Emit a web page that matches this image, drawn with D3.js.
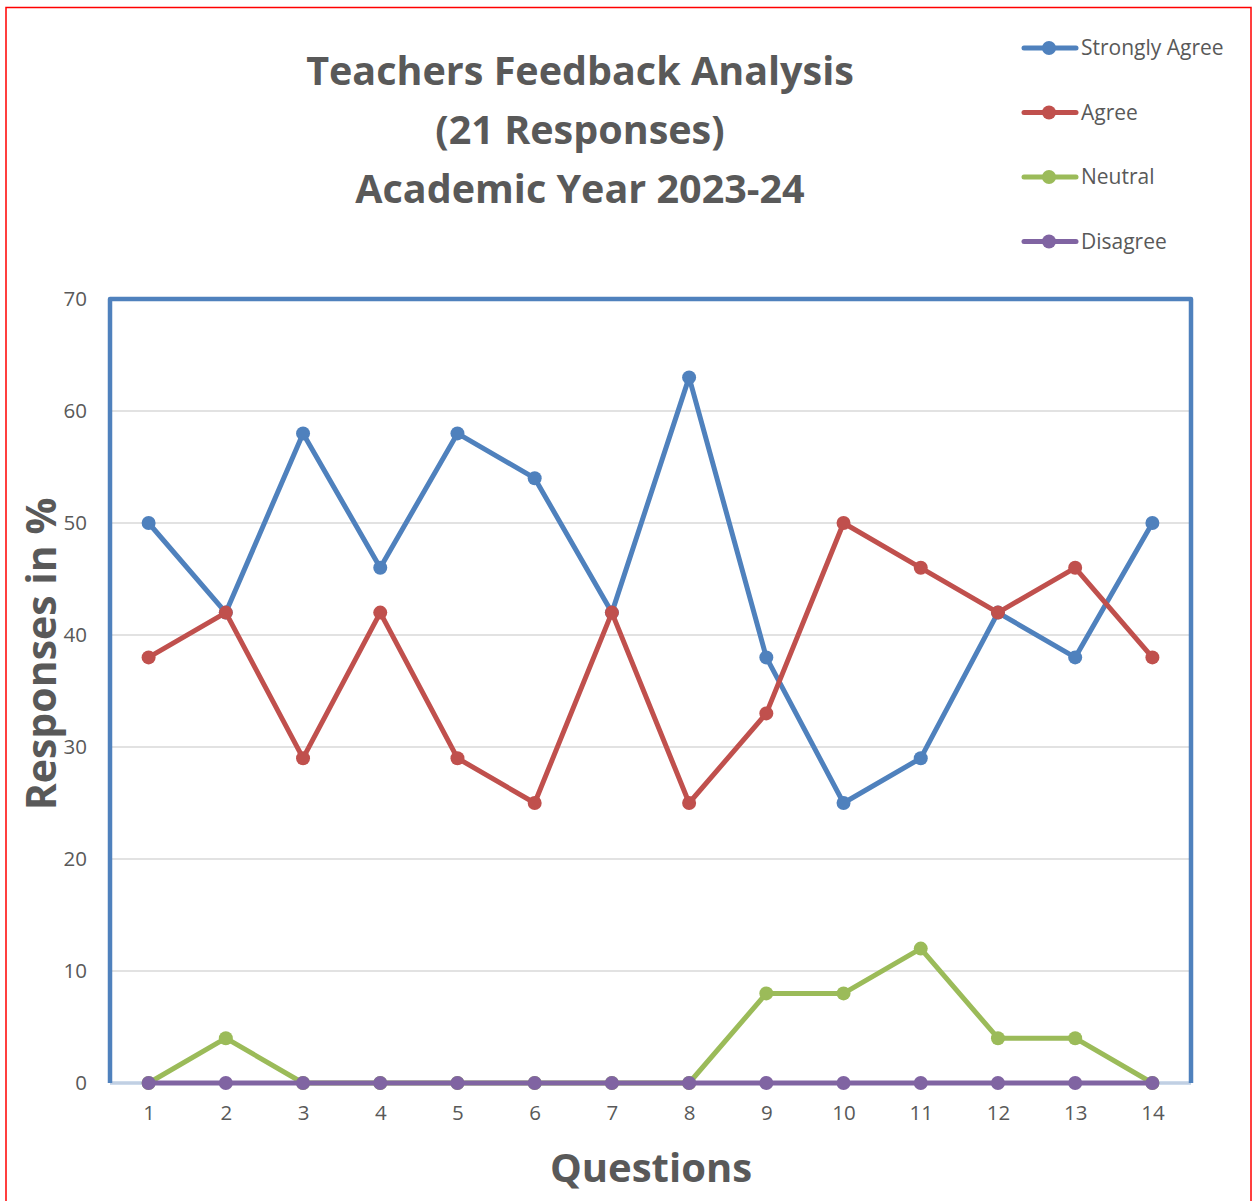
<!DOCTYPE html>
<html><head><meta charset="utf-8">
<script src="https://cdn.jsdelivr.net/npm/d3@7"></script>
<style>body{margin:0;background:#fff;}svg{display:block;}</style>
</head><body>
<script>
const questions = [1,2,3,4,5,6,7,8,9,10,11,12,13,14];
const stronglyAgree = [50,42,58,46,58,54,42,63,38,25,29,42,38,50];
const agree = [38,42,29,42,29,25,42,25,33,50,46,42,46,38];
const neutral = [0,4,0,0,0,0,0,0,8,8,12,4,4,0];
const disagree = [0,0,0,0,0,0,0,0,0,0,0,0,0,0];
const yTicks = [0,10,20,30,40,50,60,70];
const seriesNames = ["Strongly Agree","Agree","Neutral","Disagree"];
const seriesColors = ["#4f81bd","#c0504d","#9bbb59","#8064a2"];
const titleLines = ["Teachers Feedback Analysis","(21 Responses)","Academic Year 2023-24"];

const W = 1253, H = 1201;
const font = "'Open Sans', sans-serif";
const svg = d3.select("body").append("svg").attr("width", W).attr("height", H);
svg.append("rect").attr("width", W).attr("height", H).attr("fill", "#fff");
// outer red frame
svg.append("rect").attr("x", 6).attr("y", 7.5).attr("width", 1245).attr("height", 1200)
  .attr("fill", "none").attr("stroke", "#ff0000").attr("stroke-width", 1.5);

const L = 110, R = 1191, T = 299, B = 1083;
const x = d3.scalePoint().domain(questions).range([L, R]).padding(0.5);
const y = d3.scaleLinear().domain([0, 70]).range([B, T]);

// gridlines
svg.append("g").selectAll("line").data(yTicks.filter(d => d > 0 && d < 70)).join("line")
  .attr("x1", L).attr("x2", R).attr("y1", d => y(d)).attr("y2", d => y(d))
  .attr("stroke", "#d9d9d9").attr("stroke-width", 1.3);

// y axis labels
const yAxis = d3.axisLeft(y).tickValues(yTicks).tickSize(0).tickPadding(23);
const gy = svg.append("g").attr("transform", `translate(${L},0)`).call(yAxis);
gy.select(".domain").remove();
gy.selectAll("text").attr("font-family", font).attr("font-size", 20.5).attr("fill", "#595959");

// x axis labels
const xAxis = d3.axisBottom(x).tickSize(0).tickPadding(22);
const gx = svg.append("g").attr("transform", `translate(0,${B})`).call(xAxis);
gx.select(".domain").remove();
gx.selectAll("text").attr("font-family", font).attr("font-size", 20.5).attr("fill", "#595959");

// bottom axis line
svg.append("line").attr("x1", L).attr("x2", R).attr("y1", B).attr("y2", B)
  .attr("stroke", "#9db7d8").attr("stroke-width", 3);
svg.append("line").attr("x1", L).attr("x2", R).attr("y1", B).attr("y2", B)
  .attr("stroke", "#e4e8ee").attr("stroke-width", 1);
// plot border (top, left, right)
svg.append("path").attr("d", `M${L},${B}V${T}H${R}V${B}`)
  .attr("fill", "none").attr("stroke", "#4f81bd").attr("stroke-width", 4.5).attr("stroke-linejoin", "round");

// series
const allSeries = [stronglyAgree, agree, neutral, disagree];
const line = d3.line().x((d, i) => x(questions[i])).y(d => y(d));
allSeries.forEach((vals, si) => {
  const g = svg.append("g");
  g.append("path").datum(vals).attr("d", line).attr("fill", "none")
    .attr("stroke", seriesColors[si]).attr("stroke-width", 5).attr("stroke-linejoin", "round").attr("stroke-linecap", "round");
  g.selectAll("circle").data(vals).join("circle")
    .attr("cx", (d, i) => x(questions[i])).attr("cy", d => y(d)).attr("r", 7)
    .attr("fill", seriesColors[si]);
});

// title
svg.append("g").selectAll("text").data(titleLines).join("text")
  .attr("x", 580).attr("y", (d, i) => 85 + i * 59)
  .attr("text-anchor", "middle").attr("font-family", font).attr("font-weight", "bold")
  .attr("font-size", 39.5).attr("fill", "#595959").text(d => d);

// axis titles
svg.append("text").attr("transform", `translate(56,${654}) rotate(-90)`)
  .attr("text-anchor", "middle").attr("font-family", font).attr("font-weight", "bold")
  .attr("font-size", 41).attr("fill", "#595959").text("Responses in %");
svg.append("text").attr("x", 651).attr("y", 1182)
  .attr("text-anchor", "middle").attr("font-family", font).attr("font-weight", "bold")
  .attr("font-size", 40).attr("fill", "#595959").text("Questions");

// legend
const lg = svg.append("g").selectAll("g").data(seriesNames).join("g")
  .attr("transform", (d, i) => `translate(0,${48 + i * 64.5})`);
lg.append("line").attr("x1", 1024).attr("x2", 1076).attr("y1", 0).attr("y2", 0)
  .attr("stroke", (d, i) => seriesColors[i]).attr("stroke-width", 5).attr("stroke-linecap", "round");
lg.append("circle").attr("cx", 1049).attr("cy", 0).attr("r", 7).attr("fill", (d, i) => seriesColors[i]);
lg.append("text").attr("x", 1081).attr("y", 7).attr("font-family", font).attr("font-size", 21)
  .attr("fill", "#595959").text(d => d);
</script>
</body></html>
